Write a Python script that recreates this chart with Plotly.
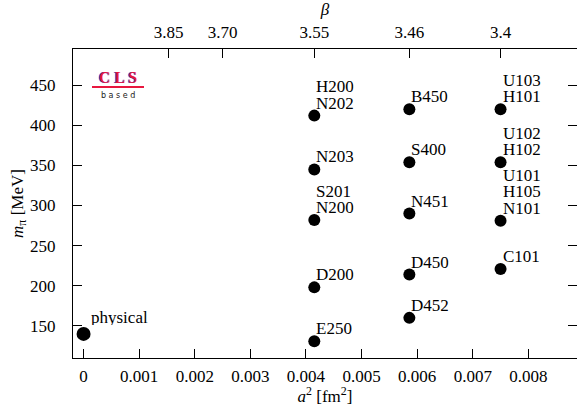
import plotly.graph_objects as go

# ---- data ----
a2_values = [0.0, 0.00415, 0.00415, 0.00415, 0.00415, 0.00415,
             0.00586, 0.00586, 0.00586, 0.00586, 0.00586,
             0.00750, 0.00750, 0.00750, 0.00750]
mpi_values = [140, 131, 198, 282, 345, 412,
              160, 214, 290, 354, 420,
              221, 281, 354, 420]
point_labels = [["physical"], ["E250"], ["D200"], ["S201", "N200"], ["N203"], ["H200", "N202"],
                ["D452"], ["D450"], ["N451"], ["S400"], ["B450"],
                ["C101"], ["U101", "H105", "N101"], ["U102", "H102"], ["U103", "H101"]]

beta_ticks = ["3.85", "3.70", "3.55", "3.46", "3.4"]
beta_a2 = [0.00153, 0.00250, 0.00415, 0.00586, 0.00750]

x_ticks = [0, 0.001, 0.002, 0.003, 0.004, 0.005, 0.006, 0.007, 0.008]
x_ticktext = ["0", "0.001", "0.002", "0.003", "0.004", "0.005", "0.006", "0.007", "0.008"]
y_ticks = [150, 200, 250, 300, 350, 400, 450]

FONT = "Liberation Serif"
FS = 17
X_RANGE = [-0.00019, 0.008875]
Y_RANGE = [110, 495]

W, H = 577, 406
ML, MR, MT, MB = 73, 0, 49, 48
pw, ph = W - ML - MR, H - MT - MB

fig = go.Figure()

sizes = [14] + [12] * (len(a2_values) - 1)
fig.add_trace(go.Scatter(x=a2_values, y=mpi_values, mode="markers",
                         marker=dict(color="black", size=sizes, opacity=1,
                                     line=dict(width=0, color="black")),
                         opacity=1, showlegend=False, hoverinfo="skip"))
# invisible trace to activate top beta axis
fig.add_trace(go.Scatter(x=beta_a2, y=[None] * len(beta_a2), xaxis="x2", yaxis="y",
                         mode="markers", showlegend=False, hoverinfo="skip"))

annotations = []
for i, (xv, yv, labs) in enumerate(zip(a2_values, mpi_values, point_labels)):
    for k, lab in enumerate(reversed(labs)):
        if i == 0:
            xs, ys = 6, 8
        else:
            xs, ys = 1, 4
        annotations.append(dict(x=xv, y=yv, xref="x", yref="y", text=lab, showarrow=False,
                                xanchor="left", yanchor="bottom", xshift=xs, height=15,
                                yshift=ys + k * 16.3, borderpad=0,
                                font=dict(family=FONT, size=FS, color="black")))

# CLS logo
logo = [
    dict(text="<b>C L S</b>", font=dict(family=FONT, size=16, color="#3a3ad0"), dx=-0.8, y=77),
    dict(text="<b>C L S</b>", font=dict(family=FONT, size=16, color="#e8173f"), dx=0, y=77),
    dict(text="b a s e d", font=dict(family="DejaVu Sans", size=8, color="#222222"), dx=0, y=95),
]
for item in logo:
    px, py = 118 + item["dx"], item["y"]
    annotations.append(dict(x=(px - ML) / pw, y=1 - (py - MT) / ph, xref="paper", yref="paper",
                            text=item["text"], showarrow=False, xanchor="center", yanchor="middle",
                            font=item["font"]))

axis_common = dict(ticks="inside", ticklen=9, tickwidth=1, tickcolor="black", showline=True,
                   linecolor="black", linewidth=1.3, showgrid=False, zeroline=False,
                   tickfont=dict(family=FONT, size=FS))

fig.update_layout(
    width=W, height=H,
    margin=dict(l=ML, r=MR, t=MT, b=MB),
    paper_bgcolor="white", plot_bgcolor="white",
    font=dict(family=FONT, size=FS, color="black"),
    annotations=annotations,
    shapes=[dict(type="line", xref="paper", yref="paper",
                 x0=(92 - ML) / pw, x1=(144 - ML) / pw,
                 y0=1 - (87 - MT) / ph, y1=1 - (87 - MT) / ph,
                 line=dict(color="#e8173f", width=1.8))],
    xaxis=dict(range=X_RANGE, tickvals=x_ticks, ticktext=x_ticktext, ticklabelstandoff=2,
               title=dict(text="<i>a</i><sup>2</sup> [fm<sup>2</sup>]", standoff=3,
                          font=dict(family=FONT, size=FS)), **axis_common),
    xaxis2=dict(range=X_RANGE, overlaying="x", side="top", tickvals=beta_a2, ticktext=beta_ticks,
                ticklabelstandoff=3,
                title=dict(text="<i>β</i>", standoff=4, font=dict(family=FONT, size=FS)),
                **axis_common),
    yaxis=dict(range=Y_RANGE, tickvals=y_ticks, mirror="ticks", ticklabelstandoff=13,
               title=dict(text="<i>m</i><sub>π</sub> [MeV]", standoff=2,
                          font=dict(family=FONT, size=FS)), **axis_common),
)

fig.write_html("out.html")
